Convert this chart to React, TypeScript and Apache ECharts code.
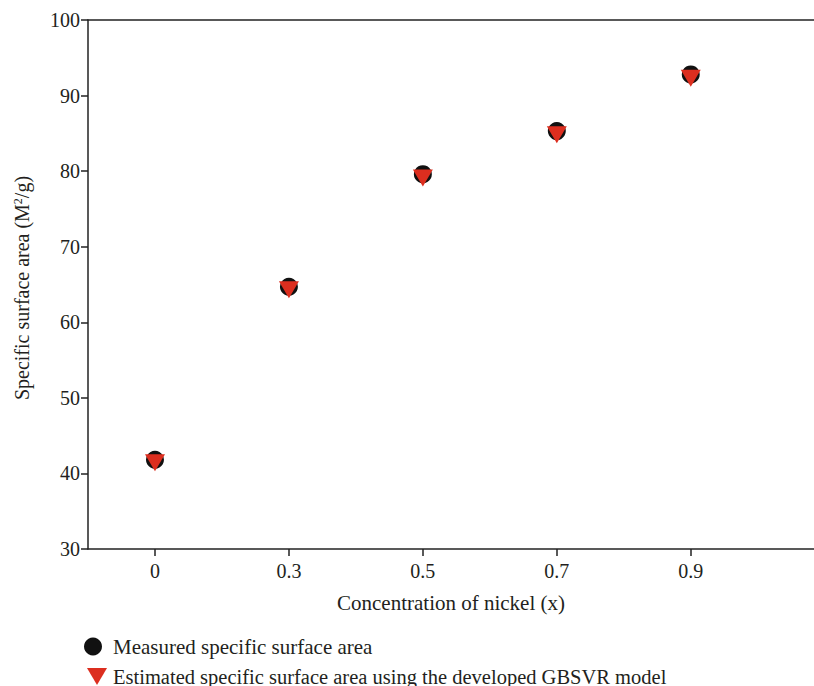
import React, { useEffect, useRef } from "react";
import * as echarts from "echarts";

const categories = ["0", "0.3", "0.5", "0.7", "0.9"];
const measured = [41.8, 64.7, 79.6, 85.3, 92.8];
const estimated = [41.4, 64.3, 79.1, 84.8, 92.3];
const yTicks = [30, 40, 50, 60, 70, 80, 90, 100];
const seriesNames = [
  "Measured specific surface area",
  "Estimated specific surface area using the developed GBSVR model",
];

const FONT = "Liberation Serif";
const TEXT = "#231f20";
const RED = "#dc2e1f";
const BLACK = "#111111";
const TRI = "path://M0,0L20,0L10,17Z";

export default function App() {
  const ref = useRef<HTMLDivElement>(null);
  useEffect(() => {
    if (!ref.current) return;
    const chart = echarts.init(ref.current, null, { renderer: "svg" });
    const idx = categories.map((_, i) => i);
    chart.setOption({
      animation: false,
      backgroundColor: "#ffffff",
      textStyle: { fontFamily: FONT, color: TEXT },
      grid: { left: 88, right: 0, top: 20, bottom: 137 },
      legend: [
        {
          left: 84,
          top: 636,
          padding: 0,
          itemGap: 10,
          itemWidth: 18,
          itemHeight: 18,
          textStyle: { fontFamily: FONT, fontSize: 21, color: TEXT, padding: [0, 0, 0, 6] },
          data: [{ name: seriesNames[0], icon: "circle", itemStyle: { color: BLACK, opacity: 1 } }],
        },
        {
          left: 87,
          top: 666,
          padding: 0,
          itemGap: 10,
          itemWidth: 20,
          itemHeight: 17,
          textStyle: { fontFamily: FONT, fontSize: 20.5, lineHeight: 18, color: TEXT, padding: [0, 0, 0, 1] },
          data: [{ name: seriesNames[1], icon: TRI, itemStyle: { color: RED, opacity: 1 } }],
        },
      ],
      graphic: [
        {
          type: "text",
          x: 22,
          y: 288,
          rotation: Math.PI / 2,
          style: {
            text: "Specific surface area (M{sup|2}/g)",
            fontFamily: FONT,
            fontSize: 20,
            fill: TEXT,
            align: "center",
            verticalAlign: "middle",
            rich: { sup: { fontSize: 12, fontFamily: FONT, verticalAlign: "top", padding: [0, 0, 9, 0], fill: TEXT } },
          },
        },
      ],
      xAxis: [
        {
          type: "value",
          min: -0.5,
          max: 4.92,
          name: "Concentration of nickel (x)",
          nameLocation: "middle",
          nameGap: 43,
          nameTextStyle: { fontFamily: FONT, fontSize: 21, color: TEXT },
          axisLine: { show: true, onZero: false, lineStyle: { color: "#222", width: 1.5 } },
          axisTick: { show: true, inside: false, length: 7, lineStyle: { color: "#222", width: 1.5 }, customValues: idx },
          axisLabel: {
            margin: 12,
            fontFamily: FONT,
            fontSize: 20,
            color: TEXT,
            customValues: idx,
            formatter: (v: number) => categories[Math.round(v)] ?? "",
          },
          splitLine: { show: false },
        },
        {
          type: "value",
          position: "top",
          min: -0.5,
          max: 4.92,
          axisLine: { show: true, onZero: false, lineStyle: { color: "#222", width: 1.5 } },
          axisTick: { show: false },
          axisLabel: { show: false },
          splitLine: { show: false },
        },
      ],
      yAxis: {
        type: "value",
        min: yTicks[0],
        max: yTicks[yTicks.length - 1],
        interval: 10,
        axisLine: { show: true, onZero: false, lineStyle: { color: "#222", width: 1.5 } },
        axisTick: { show: true, length: 7, lineStyle: { color: "#222", width: 1.5 } },
        axisLabel: { margin: 8, fontFamily: FONT, fontSize: 20, color: TEXT },
        splitLine: { show: false },
      },
      series: [
        {
          name: seriesNames[0],
          type: "scatter",
          symbol: "circle",
          symbolSize: 18,
          itemStyle: { color: BLACK, opacity: 1 },
          data: measured.map((v, i) => [i, v]),
          z: 2,
        },
        {
          name: seriesNames[1],
          type: "scatter",
          symbol: TRI,
          symbolSize: [20, 17],
          itemStyle: { color: RED, opacity: 1 },
          data: estimated.map((v, i) => [i, v]),
          z: 3,
        },
      ],
    });
    return () => chart.dispose();
  }, []);
  return (
    <div
      ref={ref}
      style={{ position: "fixed", left: 0, top: 0, width: 814, height: 686, background: "#fff" }}
    />
  );
}
